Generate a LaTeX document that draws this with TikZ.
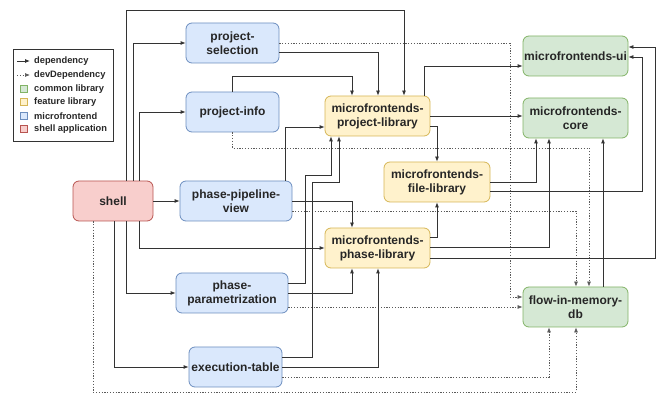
\documentclass[tikz,border=0pt]{standalone}
\usepackage{fontspec}
\setmainfont{Liberation Sans}
\usetikzlibrary{arrows.meta}
\definecolor{mfF}{HTML}{DAE8FC}\definecolor{mfD}{HTML}{6C8EBF}
\definecolor{flF}{HTML}{FFF2CC}\definecolor{flD}{HTML}{D6B656}
\definecolor{clF}{HTML}{D5E8D4}\definecolor{clD}{HTML}{82B366}
\definecolor{shF}{HTML}{F8CECC}\definecolor{shD}{HTML}{B85450}
\definecolor{lineC}{HTML}{333333}
\definecolor{dotC}{HTML}{5A5A5A}
\begin{document}
\begin{tikzpicture}[x=1pt,y=-1pt,
  box/.style={rounded corners=6pt, minimum height=40pt, inner sep=1pt, align=center,
    font=\bfseries\fontsize{12}{14}\selectfont, text=black!85, line width=0.8pt},
  mf/.style={box, fill=mfF, draw=mfD},
  fl/.style={box, fill=flF, draw=flD},
  cl/.style={box, fill=clF, draw=clD},
  sh/.style={box, fill=shF, draw=shD},
  dep/.style={draw=lineC, line width=0.8pt, -{Latex[length=5pt,width=4pt]}},
  dev/.style={draw=dotC, line width=0.7pt, dash pattern=on 1.2pt off 1.6pt, -{Latex[length=5pt,width=4pt]}},
  legtxt/.style={anchor=west, inner sep=0pt, font=\bfseries\fontsize{9.3}{10}\selectfont, text=black!85},
  legsq/.style={minimum size=7pt, inner sep=0pt, line width=0.6pt}
]
\useasboundingbox (0,0) rectangle (657,395);

% legend
\node[draw=lineC, line width=0.6pt, minimum width=100pt, minimum height=92pt, inner sep=0pt] (legend) at (63,95) {};
\node[legtxt] (l1) at (34,61) {dependency};
\node[legtxt] (l2) at (34,75) {devDependency};
\node[legtxt] (l3) at (34,89) {common library};
\node[legtxt] (l4) at (34,102) {feature library};
\node[legtxt] (l5) at (34,116) {microfrontend};
\node[legtxt] (l6) at (34,129) {shell application};
\coordinate (a1s) at (17,61); \coordinate (a1e) at (30,61);
\coordinate (a2s) at (17,75); \coordinate (a2e) at (30,75);
\draw[dep] (a1s) -- (a1e);
\draw[dev] (a2s) -- (a2e);
\node[legsq, fill=clF, draw=clD] (s3) at (23.5,89) {};
\node[legsq, fill=flF, draw=flD] (s4) at (23.5,102) {};
\node[legsq, fill=mfF, draw=mfD] (s5) at (23.5,116) {};
\node[legsq, fill=shF, draw=shD] (s6) at (23.5,129) {};

% nodes
\node[sh, minimum width=80pt] (shell) at (113,201) {shell};
\node[mf, minimum width=93pt] (ps) at (232.5,43) {project-\\selection};
\node[mf, minimum width=93pt] (pi) at (232.5,112) {project-info};
\node[mf, minimum width=112pt] (ppv) at (236,201) {phase-pipeline-\\view};
\node[mf, minimum width=112pt] (pp) at (232,293) {phase-\\parametrization};
\node[mf, minimum width=93pt] (et) at (235.5,367) {execution-table};
\node[fl, minimum width=105pt] (pl) at (377.5,116) {microfrontends-\\project-library};
\node[fl, minimum width=106pt] (fil) at (437,182) {microfrontends-\\file-library};
\node[fl, minimum width=105pt] (phl) at (377.5,248) {microfrontends-\\phase-library};
\node[cl, minimum width=105pt] (ui) at (575.5,56) {microfrontends-ui};
\node[cl, minimum width=105pt] (core) at (575.5,118) {microfrontends-\\core};
\node[cl, minimum width=105pt] (db) at (575.5,307) {flow-in-memory-\\db};

% shell edges
\draw[dep] (shell.north -| 126,0) |- (404,10) -- (pl.north -| 404,0);
\draw[dep] (shell.north -| 133,0) |- (ps.west);
\draw[dep] (shell.north -| 139,0) |- (pi.west);
\draw[dep] (shell.east) -- (ppv.west);
\draw[dep] (shell.south -| 139,0) |- (phl.west);
\draw[dep] (shell.south -| 126,0) |- (pp.west);
\draw[dep] (shell.south -| 114,0) |- (et.west);
\draw[dev] (shell.south -| 93,0) |- (576,392) -- (db.south -| 576,0);

% project-selection
\draw[dep] (ps.east |- 0,52) -| (pl.north -| 378,0);
\draw[dev] (ps.east) -| (510,297) -- (db.west |- 0,297);

% project-info
\draw[dep] (pi.north) |- (352,76) -- (pl.north -| 352,0);
\draw[dev] (pi.south) |- (589,148) -- (db.north -| 589,0);

% phase-pipeline-view
\draw[dep] (ppv.north -| 285,0) |- (pl.west |- 0,127);
\draw[dep] (ppv.east) -| (phl.north -| 352,0);
\draw[dev] (ppv.east |- 0,211) -| (db.north -| 576,0);

% phase-parametrization
\draw[dep] (pp.east |- 0,283) -| (305,175) -| (pl.south -| 331,0);
\draw[dep] (pp.east) -| (phl.south -| 352,0);
\draw[dev] (pp.east |- 0,307) -- (db.west |- 0,307);

% execution-table
\draw[dep] (et.east |- 0,357) -| (312,182) -| (pl.south -| 339,0);
\draw[dep] (et.east) -| (phl.south -| 378,0);
\draw[dev] (et.east |- 0,377) -| (db.south -| 549,0);

% project-library
\draw[dep] (pl.north -| 424,0) |- (ui.west |- 0,66);
\draw[dep] (pl.east) -- (core.west |- pl.east);
\draw[dep] (pl.east |- 0,126) -| (fil.north -| 437,0);

% file-library
\draw[dep] (fil.east |- 0,182) -| (core.south -| 536,0);
\draw[dep] (fil.east |- 0,191) -| (642,57) -- (ui.east |- 0,57);

% phase-library
\draw[dep] (phl.east |- 0,237) -| (fil.south -| 437,0);
\draw[dep] (phl.east |- 0,247) -| (core.south -| 549,0);
\draw[dep] (phl.east |- 0,258) -| (655,47) -- (ui.east |- 0,47);

% db
\draw[dep] (db.north -| 603,0) -- (core.south -| 603,0);
\end{tikzpicture}
\end{document}
